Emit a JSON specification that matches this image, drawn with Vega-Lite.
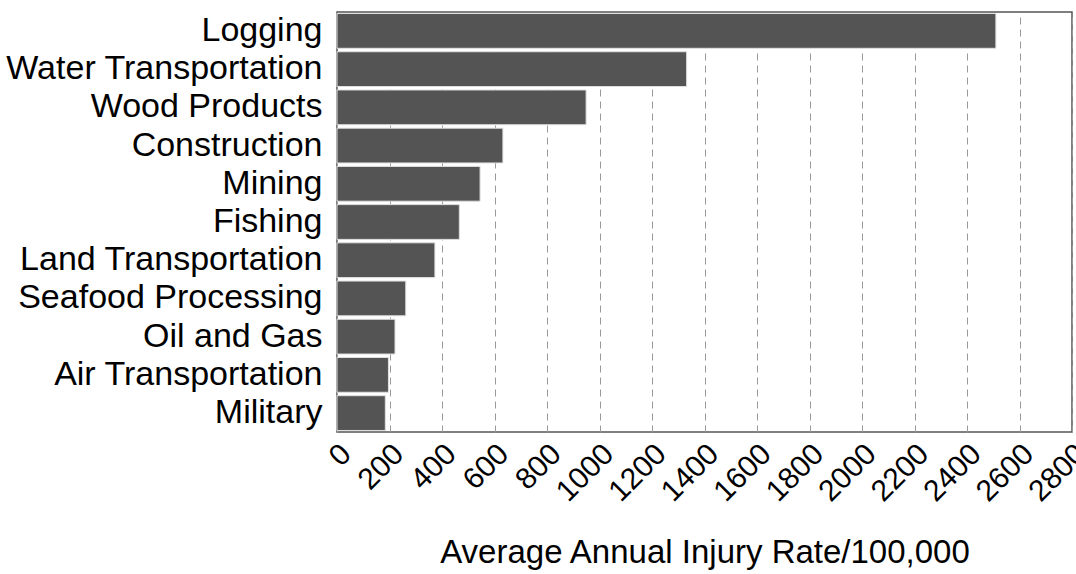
{
  "$schema": "https://vega.github.io/schema/vega-lite/v6.json",
  "autosize": {"type": "none"},
  "width": 735,
  "height": 420,
  "padding": {"left": 337, "top": 12, "right": 4, "bottom": 142},
  "background": "white",
  "config": {
    "view": {"stroke": "#555555", "strokeWidth": 1.5},
    "font": "Liberation Sans"
  },
  "data": {
    "values": [
      {"industry": "Logging", "rate": 2510},
      {"industry": "Water Transportation", "rate": 1332},
      {"industry": "Wood Products", "rate": 949},
      {"industry": "Construction", "rate": 632},
      {"industry": "Mining", "rate": 545},
      {"industry": "Fishing", "rate": 466},
      {"industry": "Land Transportation", "rate": 373},
      {"industry": "Seafood Processing", "rate": 262},
      {"industry": "Oil and Gas", "rate": 221},
      {"industry": "Air Transportation", "rate": 196},
      {"industry": "Military", "rate": 184}
    ]
  },
  "mark": {"type": "bar", "color": "#545454", "stroke": "#e0e0e0", "strokeWidth": 1},
  "encoding": {
    "y": {
      "field": "industry",
      "type": "nominal",
      "sort": "-x",
      "scale": {"paddingInner": 0.09, "paddingOuter": 0.04},
      "axis": {
        "title": null,
        "ticks": false,
        "domain": false,
        "labelFontSize": 34,
        "labelColor": "black",
        "labelPadding": 15,
        "labelLimit": 500,
        "labelFont": "Liberation Sans"
      }
    },
    "x": {
      "field": "rate",
      "type": "quantitative",
      "scale": {"domain": [0, 2800], "nice": false},
      "axis": {
        "title": "Average Annual Injury Rate/100,000",
        "titleFontSize": 33,
        "titleFontWeight": "normal",
        "titleColor": "black",
        "titleFont": "Liberation Sans",
        "titleY": 130,
        "titleBaseline": "alphabetic",
        "values": [0, 200, 400, 600, 800, 1000, 1200, 1400, 1600, 1800, 2000, 2200, 2400, 2600, 2800],
        "format": "d",
        "labelAngle": -45,
        "labelAlign": "right",
        "labelBaseline": "middle",
        "labelFontSize": 30,
        "labelColor": "black",
        "labelPadding": 17,
        "labelOffset": 9,
        "labelFlush": false,
        "labelOverlap": false,
        "ticks": false,
        "domain": false,
        "grid": true,
        "gridColor": "#999999",
        "gridDash": [7, 5],
        "gridWidth": 1
      }
    }
  }
}
